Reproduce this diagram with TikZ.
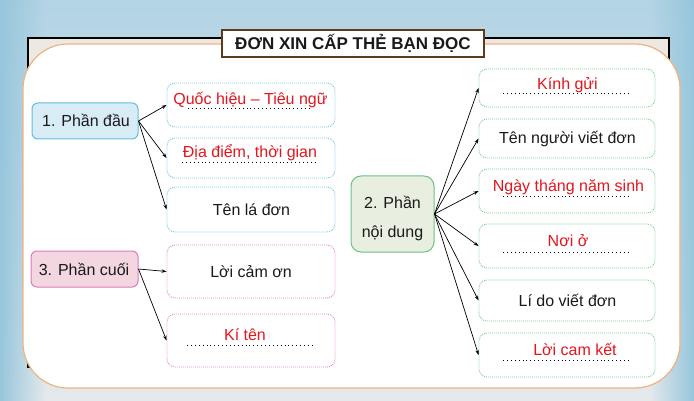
\documentclass[tikz,border=0pt]{standalone}
\usepackage{fontspec}
\setmainfont{Liberation Sans}
\usetikzlibrary{arrows.meta,fadings}
\definecolor{bgtop}{HTML}{B3D4E4}
\definecolor{bgmid}{HTML}{C6DEEA}
\definecolor{bgbot}{HTML}{E4E9EB}
\definecolor{bgside}{HTML}{97C6DC}
\definecolor{framefill}{HTML}{ECE8E3}
\definecolor{orangeb}{HTML}{F2B27E}
\definecolor{titleb}{HTML}{5C3A1E}
\definecolor{redt}{HTML}{E3161E}
\definecolor{bluef}{HTML}{D8ECF6}
\definecolor{blueb}{HTML}{62BCE0}
\definecolor{pinkf}{HTML}{F3D6DF}
\definecolor{pinkb}{HTML}{D97CBE}
\definecolor{greenf}{HTML}{E8EEE0}
\definecolor{greenb}{HTML}{6CC283}
\definecolor{bluedot}{HTML}{7CCBE3}
\definecolor{pinkdot}{HTML}{E38FD6}
\definecolor{greendot}{HTML}{7ED29A}
\definecolor{textc}{HTML}{1A1A1A}
\tikzfading[name=fadeleft, left color=transparent!0, right color=transparent!100]
\tikzfading[name=faderight, left color=transparent!100, right color=transparent!0]
\begin{document}
\begin{tikzpicture}[x=1pt,y=-1pt,
 every node/.style={font=\fontsize{16}{19}\selectfont, text=textc},
 parentbox/.style={draw, line width=1pt, rounded corners=6pt, inner sep=0pt},
 childbox/.style={draw, dash pattern=on 1pt off 1pt, line width=0.9pt, rounded corners=8pt, fill=white, inner sep=0pt},
 leftchild/.style={childbox, minimum width=168pt},
 rightchild/.style={childbox, minimum width=176pt},
 lbl/.style={anchor=base, inner sep=0pt},
 redlbl/.style={lbl, text=redt},
 blank/.style={dash pattern=on 0.9pt off 3pt, line width=0.9pt, black},
 link/.style={-{Stealth[length=5pt,width=3.5pt]}, line width=0.7pt, black}
]
% background
\useasboundingbox (0,0) rectangle (694,401);
\shade[top color=bgtop, bottom color=bgbot, middle color=bgmid] (0,0) rectangle (694,401);
\fill[bgside, path fading=fadeleft] (0,0) rectangle (45,401);
\fill[bgside, path fading=faderight] (650,0) rectangle (694,401);
% frame
\draw[line width=2.5pt, fill=framefill] (28,38) rectangle (669,367);
\draw[orangeb, line width=1.2pt, fill=white, rounded corners=45pt] (23,44) rectangle (680,388);
% title
\node[draw=titleb, fill=white, line width=1.2pt, minimum width=262pt, minimum height=27pt, inner sep=0pt, font=\fontsize{17}{20}\selectfont\bfseries] (title) at (353,43.5) {ĐƠN XIN CẤP THẺ BẠN ĐỌC};

% parents
\node[parentbox, fill=bluef, draw=blueb, minimum width=106pt, minimum height=36pt] (p1) at (85,121) {};
\node[lbl] (tp1) at (86,127) {1. Phần đầu};
\node[parentbox, fill=pinkf, draw=pinkb, minimum width=107pt, minimum height=36pt] (p3) at (84.5,269) {};
\node[lbl] (tp3) at (84,275) {3. Phần cuối};
\node[parentbox, fill=greenf, draw=greenb, minimum width=83pt, minimum height=76pt, rounded corners=10pt] (p2) at (392.5,214) {};
\node[lbl] (tp2a) at (392.5,208) {2. Phần};
\node[lbl] (tp2b) at (392.5,237) {nội dung};

% left children
\node[leftchild, draw=bluedot, minimum height=44pt] (qh) at (251,105) {};
\node[redlbl] (tqh) at (250.5,105) {Quốc hiệu – Tiêu ngữ};
\draw[blank] (188,108.5) -- (310,108.5);
\node[leftchild, draw=bluedot, minimum height=40pt] (dd) at (251,158) {};
\node[redlbl] (tdd) at (250,158) {Địa điểm, thời gian};
\draw[blank] (182,162) -- (317,162);
\node[leftchild, draw=bluedot, minimum height=45pt] (tl) at (251,209.5) {};
\node[lbl] (ttl) at (251.5,215) {Tên lá đơn};
\node[leftchild, draw=pinkdot, minimum height=53pt] (lc) at (251,271.5) {};
\node[lbl] (tlc) at (251,277) {Lời cảm ơn};
\node[leftchild, draw=pinkdot, minimum height=53pt] (kt) at (251,340.5) {};
\node[redlbl] (tkt) at (245,340) {Kí tên};
\draw[blank] (187,345) -- (313,345);

% right children
\node[rightchild, draw=greendot, minimum height=38pt] (kg) at (567,88) {};
\node[redlbl] (tkg) at (567.5,90) {Kính gửi};
\draw[blank] (503,93.5) -- (630,93.5);
\node[rightchild, draw=greendot, minimum height=39pt] (tn) at (567,138.5) {};
\node[lbl] (ttn) at (567.5,144) {Tên người viết đơn};
\node[rightchild, draw=greendot, minimum height=44pt] (ns) at (567,191) {};
\node[redlbl] (tns) at (568.5,192) {Ngày tháng năm sinh};
\draw[blank] (503,196) -- (630,196);
\node[rightchild, draw=greendot, minimum height=44pt] (no) at (567,246) {};
\node[redlbl] (tno) at (568,246) {Nơi ở};
\draw[blank] (503,252) -- (630,252);
\node[rightchild, draw=greendot, minimum height=41pt] (ld) at (567,300.5) {};
\node[lbl] (tld) at (567.5,306) {Lí do viết đơn};
\node[rightchild, draw=greendot, minimum height=44pt] (ck) at (567,355) {};
\node[redlbl] (tck) at (575,355) {Lời cam kết};
\draw[blank] (503,360) -- (630,360);

% connectors
\draw[link] (p1.east) -- (qh.west);
\draw[link] (p1.east) -- (dd.west);
\draw[link] (p1.east) -- (tl.west);
\draw[link] (p3.east) -- (lc.west);
\draw[link] (p3.east) -- (kt.west);
\foreach \t in {kg,tn,ns,no,ld,ck}
  \draw[link] (p2.east) -- (\t.west);
\end{tikzpicture}
\end{document}
